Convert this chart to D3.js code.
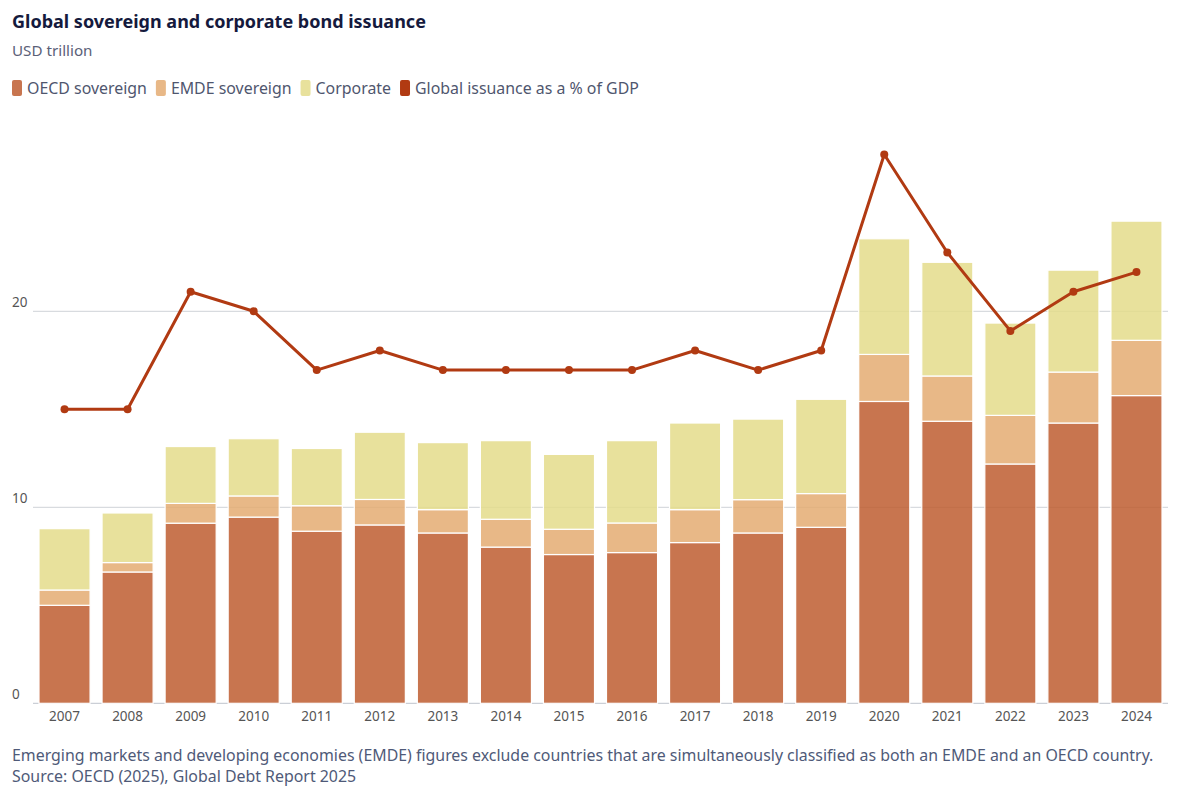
<!DOCTYPE html>
<html lang="en">
<head>
<meta charset="UTF-8">
<title>Global sovereign and corporate bond issuance</title>
<script src="https://d3js.org/d3.v7.min.js"></script>
<style>
  body { margin: 0; background: #fff; font-family: 'Noto Sans', sans-serif; }
  svg text { font-family: 'Noto Sans', sans-serif; }
</style>
</head>
<body>
<div id="chart"></div>
<script>
  // data (USD trillion, stacked) + issuance as % of GDP
  const years = ["2007","2008","2009","2010","2011","2012","2013","2014","2015",
                 "2016","2017","2018","2019","2020","2021","2022","2023","2024"];
  const oecdSov = [5.0, 6.7, 9.19, 9.5, 8.78, 9.1, 8.69, 7.97, 7.59, 7.69, 8.2, 8.69, 8.98, 15.4, 14.39, 12.21, 14.3, 15.7];
  const emdeSov = [0.78, 0.48, 1.01, 1.08, 1.3, 1.3, 1.19, 1.42, 1.29, 1.51, 1.68, 1.7, 1.72, 2.4, 2.31, 2.48, 2.6, 2.82];
  const corporate = [3.13, 2.53, 2.9, 2.92, 2.92, 3.43, 3.42, 4.01, 3.82, 4.2, 4.42, 4.11, 4.81, 5.9, 5.8, 4.71, 5.2, 6.08];
  const pctGdp = [15, 15, 21, 20, 17, 18, 17, 17, 17, 17, 18, 17, 18, 28, 23, 19, 21, 22];
  const yTicks = [0, 10, 20];

  const series = [
    { key: "oecd", label: "OECD sovereign", values: oecdSov, color: "#BE5D30", swatch: "#C8754F" },
    { key: "emde", label: "EMDE sovereign", values: emdeSov, color: "#E4AC72", swatch: "#E8B887" },
    { key: "corp", label: "Corporate", values: corporate, color: "#E4DC8B", swatch: "#E8E19C" }
  ];
  const lineColor = "#B13A12";

  const width = 1200, height = 800;
  const svg = d3.select("#chart").append("svg")
      .attr("width", width)
      .attr("height", height);

  // header
  svg.append("text")
      .attr("x", 12).attr("y", 28)
      .attr("font-size", 18).attr("font-weight", "bold")
      .attr("fill", "#151a3d")
      .text("Global sovereign and corporate bond issuance");

  svg.append("text")
      .attr("x", 12).attr("y", 56)
      .attr("font-size", 15.2).attr("fill", "#5b6178")
      .text("USD trillion");

  // legend
  const legendItems = series.map(s => ({ label: s.label, color: s.swatch }))
    .concat([{ label: "Global issuance as a % of GDP", color: lineColor }]);
  let lx = 12;
  legendItems.forEach(item => {
    const g = svg.append("g").attr("transform", `translate(${lx},80)`);
    g.append("rect")
        .attr("width", 10).attr("height", 16).attr("rx", 2)
        .attr("fill", item.color);
    const t = g.append("text")
        .attr("x", 15).attr("y", 13.5)
        .attr("font-size", 15.9).attr("fill", "#4f566e")
        .text(item.label);
    lx += 15 + t.node().getComputedTextLength() + 9;
  });

  // scales
  const x = d3.scaleBand()
      .domain(years)
      .range([33, 1168])
      .paddingInner(0.19)
      .paddingOuter(0.095);

  const y = d3.scaleLinear()
      .domain([0, 10])
      .range([703.3, 507.3]);

  // gridlines + y labels
  const grid = svg.append("g");
  yTicks.forEach(t => {
    grid.append("line")
        .attr("x1", 33).attr("x2", 1168)
        .attr("y1", y(t)).attr("y2", y(t))
        .attr("stroke", t === 0 ? "#bfc3cc" : "#cfd2d8")
        .attr("stroke-width", 1);
    grid.append("text")
        .attr("x", 12).attr("y", y(t) - 4)
        .attr("font-size", 13.5).attr("fill", "#555")
        .text(t);
  });

  // stacked bars
  const table = years.map((yr, i) => ({ year: yr, oecd: oecdSov[i], emde: emdeSov[i], corp: corporate[i] }));
  const stack = d3.stack().keys(series.map(s => s.key))(table);

  svg.append("g")
    .selectAll("g")
    .data(stack)
    .enter().append("g")
      .attr("fill", (d, i) => series[i].color)
      .attr("fill-opacity", 0.85)
    .selectAll("rect")
    .data(d => d)
    .enter().append("rect")
      .attr("x", d => x(d.data.year))
      .attr("width", x.bandwidth())
      .attr("y", d => y(d[1]))
      .attr("height", d => y(d[0]) - y(d[1]))
      .attr("stroke", "#fff")
      .attr("stroke-width", 1.2);

  // x axis labels
  const xAxis = d3.axisBottom(x).tickSize(0).tickPadding(8);
  const xg = svg.append("g")
      .attr("transform", `translate(0,${y(0)})`)
      .call(xAxis);
  xg.select(".domain").remove();
  xg.selectAll("text")
      .attr("font-size", 13.5)
      .attr("fill", "#555")
      .style("font-family", "'Noto Sans', sans-serif");

  // % of GDP line (drawn on the same scale)
  const line = d3.line()
      .x((d, i) => x(years[i]) + x.bandwidth() / 2)
      .y(d => y(d));

  svg.append("path")
      .datum(pctGdp)
      .attr("d", line)
      .attr("fill", "none")
      .attr("stroke", lineColor)
      .attr("stroke-width", 3)
      .attr("stroke-linejoin", "round");

  svg.append("g")
    .selectAll("circle")
    .data(pctGdp)
    .enter().append("circle")
      .attr("cx", (d, i) => x(years[i]) + x.bandwidth() / 2)
      .attr("cy", d => y(d))
      .attr("r", 4)
      .attr("fill", lineColor);

  // footnotes
  svg.append("text")
      .attr("x", 12).attr("y", 761)
      .attr("font-size", 15.9).attr("fill", "#4f5a78")
      .text("Emerging markets and developing economies (EMDE) figures exclude countries that are simultaneously classified as both an EMDE and an OECD country.");
  svg.append("text")
      .attr("x", 12).attr("y", 782)
      .attr("font-size", 15.9).attr("fill", "#4f5a78")
      .text("Source: OECD (2025), Global Debt Report 2025");
</script>
</body>
</html>
